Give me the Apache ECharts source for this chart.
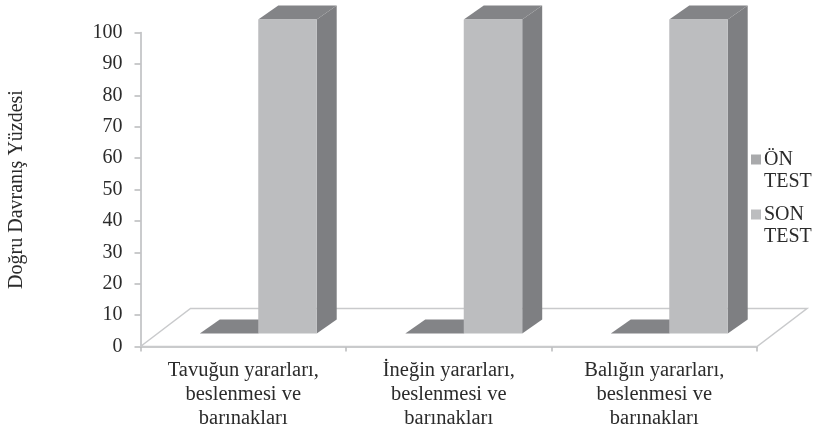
<!DOCTYPE html>
<html><head><meta charset="utf-8">
<style>html,body{margin:0;padding:0;background:#fff}#c{width:815px;height:429px}</style>
<script src="https://cdn.jsdelivr.net/npm/echarts@6/dist/echarts.min.js"></script>
</head><body><div id="c"></div>
<script>
const categories = ["Tavuğun yararları,\nbeslenmesi ve\nbarınakları", "İneğin yararları,\nbeslenmesi ve\nbarınakları", "Balığın yararları,\nbeslenmesi ve\nbarınakları"];
const onTest = [0, 0, 0];
const sonTest = [100, 100, 100];
const yTicks = {min: 0, max: 100, interval: 10};

const FONT = '"Liberation Serif", serif';
const TEXT = '#2b2b2b';
const barFrac = 0.2845;
const shift = [17, -13];
const depth = [20, -14];
const floorDepth = [50, -38];

function barItem(slot) {
  return function (params, api) {
    const base = api.coord([api.value(0), 0]);
    const top = api.coord([api.value(0), api.value(1)]);
    const band = api.size([1, 0])[0];
    const w = band * barFrac;
    const xl = base[0] - 2 + (slot === 0 ? -w : 0) + shift[0];
    const xr = xl + w;
    const yb = base[1] + shift[1];
    const yt = top[1] + shift[1];
    const dx = depth[0], dy = depth[1];
    const poly = (pts, fill) => ({type: 'polygon', shape: {points: pts}, style: {fill: fill}});
    return {type: 'group', children: [
      poly([[xr, yb], [xr + dx, yb + dy], [xr + dx, yt + dy], [xr, yt]], '#7e7f82'),
      poly([[xl, yt], [xl + dx, yt + dy], [xr + dx, yt + dy], [xr, yt]], '#838487'),
      poly([[xl, yb], [xr, yb], [xr, yt], [xl, yt]], '#bcbdbf')
    ]};
  };
}
function floorItem(params, api) {
  const a = api.coord([0, 0]);
  const b = api.coord([categories.length - 1, 0]);
  const band = api.size([1, 0])[0];
  const l = a[0] - band / 2, r = b[0] + band / 2, y = a[1];
  return {type: 'polygon', shape: {points: [[l, y], [l + floorDepth[0], y + floorDepth[1]], [r + floorDepth[0], y + floorDepth[1]], [r, y]]},
    style: {fill: '#ffffff', stroke: '#c9cacc', lineWidth: 1.5}};
}
const mark = 'path://M0,0L0,0M0,6H10V16H0ZM0,44L0,44';
const chart = echarts.init(document.getElementById('c'), null, {renderer: 'canvas'});
chart.setOption({
  animation: false,
  backgroundColor: '#ffffff',
  grid: {left: 140.5, right: 58, top: 32.5, bottom: 82.5, outerBoundsMode: 'none'},
  legend: {
    data: [{name: 'ÖN\nTEST', icon: mark}, {name: 'SON\nTEST', icon: mark}],
    orient: 'vertical', left: 746, top: 143, itemWidth: 10, itemHeight: 44, itemGap: 10,
    textStyle: {fontFamily: FONT, fontSize: 20, color: TEXT, lineHeight: 22.5, padding: [0, 0, 0, -2]}
  },
  xAxis: {
    type: 'category', data: categories,
    axisLine: {lineStyle: {color: '#b9babc', width: 1.5}},
    axisTick: {show: true, length: 5, lineStyle: {color: '#b9babc', width: 1.5}},
    axisLabel: {interval: 0, fontFamily: FONT, fontSize: 20.5, color: TEXT, lineHeight: 24, margin: 12}
  },
  yAxis: {
    type: 'value', min: yTicks.min, max: yTicks.max, interval: yTicks.interval,
    name: 'Doğru Davranış Yüzdesi', nameLocation: 'middle', nameGap: 114, nameRotate: 90,
    nameTextStyle: {fontFamily: FONT, fontSize: 20, color: TEXT},
    splitLine: {show: false},
    axisLine: {show: true, lineStyle: {color: '#b9babc', width: 1.5}},
    axisTick: {show: true, length: 6, lineStyle: {color: '#b9babc', width: 1.5}},
    axisLabel: {fontFamily: FONT, fontSize: 20, color: TEXT, margin: 18}
  },
  series: [
    {type: 'custom', name: 'zemin', renderItem: floorItem, data: [[0, 0]], encode: {x: 0, y: 1}, silent: true, z: 1},
    {type: 'custom', name: 'ÖN\nTEST', renderItem: barItem(0), data: onTest.map((v, i) => [i, v]), encode: {x: 0, y: 1}, itemStyle: {color: '#a9aaac'}, z: 2},
    {type: 'custom', name: 'SON\nTEST', renderItem: barItem(1), data: sonTest.map((v, i) => [i, v]), encode: {x: 0, y: 1}, itemStyle: {color: '#bcbdbf'}, z: 3}
  ]
});
</script></body></html>
